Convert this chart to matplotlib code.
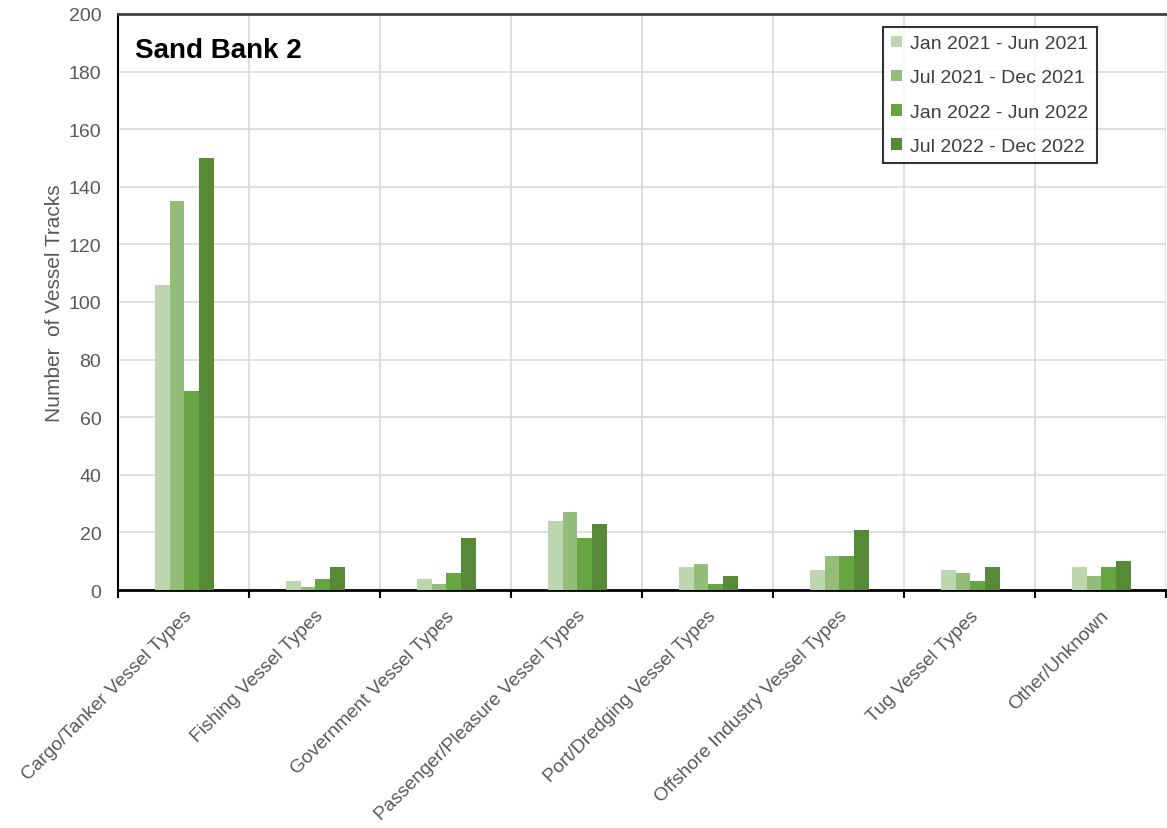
import numpy as np
import matplotlib.pyplot as plt

categories = ['Cargo/Tanker Vessel Types', 'Fishing Vessel Types', 'Government Vessel Types',
              'Passenger/Pleasure Vessel Types', 'Port/Dredging Vessel Types',
              'Offshore Industry Vessel Types', 'Tug Vessel Types', 'Other/Unknown']
periods = ['Jan 2021 - Jun 2021', 'Jul 2021 - Dec 2021', 'Jan 2022 - Jun 2022', 'Jul 2022 - Dec 2022']
h1_2021 = [106, 3, 4, 24, 8, 7, 7, 8]
h2_2021 = [135, 1, 2, 27, 9, 12, 6, 5]
h1_2022 = [69, 4, 6, 18, 2, 12, 3, 8]
h2_2022 = [150, 8, 18, 23, 5, 21, 8, 10]
series = [h1_2021, h2_2021, h1_2022, h2_2022]
colors = ['#bdd6b0', '#93bd79', '#67a542', '#568a36']

plt.rcParams['font.family'] = ['Liberation Sans', 'DejaVu Sans']
fig = plt.figure(figsize=(11.67, 8.29), dpi=100)
ax = fig.add_axes([0.1011, 0.287, 0.898, 0.695])

x = np.arange(len(categories))
w = 0.112
for i, (vals, c) in enumerate(zip(series, colors)):
    ax.bar(x + (i - 1.5) * w + 0.006, vals, w, color=c, label=periods[i], zorder=3)

ax.set_xlim(-0.5, len(categories) - 0.5)
ax.set_ylim(0, 200)
ax.set_yticks(range(0, 201, 20))
ax.set_xticks(np.arange(len(categories) + 1) - 0.5)
ax.set_xticklabels([])
ax.set_xticks(x, minor=True)
ax.set_xticklabels(categories, minor=True, rotation=45, ha='right', va='top',
                   rotation_mode='anchor', fontsize=13.8, color='#595959')
ax.tick_params(axis='x', which='minor', length=0, pad=12)
ax.tick_params(axis='x', which='major', length=6, width=1.5, color='black', direction='out')
ax.tick_params(axis='y', labelsize=14, labelcolor='#595959', length=0, pad=12)
ax.grid(True, which='major', color='#d9d9d9', lw=1.2, zorder=0)

ax.spines['right'].set_visible(False)
ax.spines['top'].set_color('#404040')
ax.spines['top'].set_linewidth(2)
ax.spines['left'].set_linewidth(1.5)
ax.spines['bottom'].set_linewidth(2)

ax.set_ylabel('Number  of Vessel Tracks', fontsize=15, color='#595959', labelpad=3)
ax.text(0.016, 0.96, 'Sand Bank 2', transform=ax.transAxes, fontsize=20,
        fontweight='bold', va='top', ha='left')

leg = ax.legend(loc='upper right', bbox_to_anchor=(0.934, 0.978), fontsize=14,
                frameon=True, fancybox=False, edgecolor='black', handlelength=0.55,
                handleheight=0.55, handletextpad=0.4, labelspacing=0.88, borderpad=0.45,
                borderaxespad=0)
leg.get_frame().set_linewidth(1.5)
for t in leg.get_texts():
    t.set_color('#404040')

fig.savefig('out.png', dpi=100)
